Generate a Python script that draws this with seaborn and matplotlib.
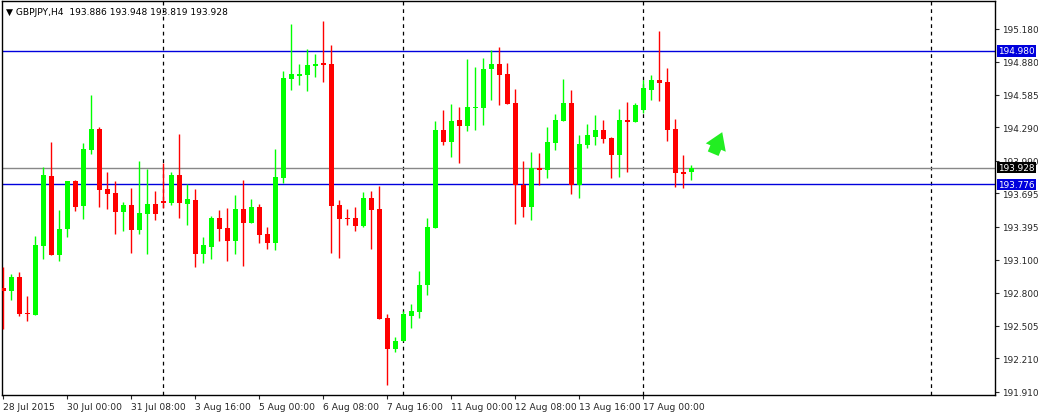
import matplotlib
matplotlib.use("Agg")
import matplotlib.pyplot as plt
import numpy as np
import seaborn as sns

# GBPJPY H4 candles
opens = [192.842, 192.821, 192.947, 192.620, 192.602, 193.223, 193.853, 193.142, 193.376, 193.808,
         193.583, 194.087, 194.276, 193.736, 193.700, 193.529, 193.592, 193.367, 193.511, 193.601,
         193.628, 193.610, 193.862, 193.601, 193.637, 193.151, 193.214, 193.475, 193.385, 193.268,
         193.556, 193.430, 193.574, 193.331, 193.250, 193.835, 194.726, 194.753, 194.762, 194.843,
         194.870, 194.861, 193.592, 193.475, 193.475, 193.403, 193.655, 193.556, 192.575, 192.296,
         192.368, 192.593, 192.629, 192.872, 193.385, 194.267, 194.159, 194.357, 194.303, 194.465,
         194.465, 194.816, 194.861, 194.771, 194.510, 193.772, 193.574, 193.925, 193.907, 194.150,
         194.348, 194.510, 193.772, 194.132, 194.204, 194.267, 194.195, 194.042, 194.357, 194.339,
         194.447, 194.627, 194.717, 194.699, 194.276, 193.889, 193.886]
closes = [192.818, 192.947, 192.611, 192.605, 193.232, 193.865, 193.142, 193.376, 193.808, 193.574,
          194.096, 194.276, 193.727, 193.691, 193.529, 193.592, 193.367, 193.520, 193.601, 193.511,
          193.610, 193.862, 193.610, 193.646, 193.151, 193.232, 193.475, 193.376, 193.268, 193.556,
          193.430, 193.574, 193.322, 193.250, 193.844, 194.735, 194.771, 194.771, 194.852, 194.861,
          194.852, 193.583, 193.466, 193.466, 193.403, 193.655, 193.547, 192.566, 192.296, 192.368,
          192.611, 192.638, 192.872, 193.394, 194.267, 194.159, 194.348, 194.303, 194.474, 194.474,
          194.816, 194.861, 194.762, 194.501, 193.772, 193.574, 193.925, 193.907, 194.159, 194.357,
          194.510, 193.772, 194.141, 194.222, 194.267, 194.186, 194.042, 194.357, 194.339, 194.492,
          194.645, 194.717, 194.690, 194.267, 193.880, 193.871, 193.928]
highs = [193.031, 192.971, 192.992, 192.776, 193.316, 193.931, 194.162, 193.550, 193.808, 193.817,
         194.150, 194.582, 194.297, 193.892, 193.811, 193.622, 193.745, 193.991, 193.916, 193.721,
         193.970, 193.886, 194.231, 193.781, 193.736, 193.307, 193.496, 193.547, 193.565, 193.685,
         193.817, 193.646, 193.601, 193.394, 194.096, 194.798, 195.218, 194.861, 194.996, 194.951,
         195.248, 195.032, 193.637, 193.556, 193.574, 193.712, 193.718, 193.766, 192.611, 192.404,
         192.638, 192.701, 192.998, 193.478, 194.351, 194.447, 194.501, 194.474, 194.906, 194.834,
         194.915, 194.987, 195.014, 194.870, 194.636, 193.988, 194.069, 194.060, 194.294, 194.411,
         194.726, 194.627, 194.222, 194.321, 194.402, 194.357, 194.204, 194.456, 194.519, 194.510,
         194.717, 194.762, 195.158, 194.825, 194.366, 194.042, 193.948]
lows = [192.476, 192.731, 192.587, 192.545, 192.596, 193.106, 193.142, 193.085, 193.301, 193.538,
        193.466, 194.051, 193.574, 193.556, 193.331, 193.358, 193.160, 193.331, 193.148, 193.457,
        193.565, 193.592, 193.475, 193.412, 193.037, 193.070, 193.106, 193.268, 193.088, 193.148,
        193.043, 193.430, 193.250, 193.196, 193.187, 193.790, 194.627, 194.672, 194.618, 194.744,
        194.699, 193.160, 193.115, 193.412, 193.358, 193.394, 193.196, 192.566, 191.972, 192.266,
        192.368, 192.485, 192.575, 192.782, 193.385, 194.132, 194.024, 193.970, 194.258, 194.267,
        194.312, 194.537, 194.492, 194.501, 193.421, 193.484, 193.457, 193.772, 193.835, 194.087,
        194.348, 193.691, 193.655, 194.105, 194.132, 194.150, 193.835, 193.844, 193.889, 194.339,
        194.420, 194.537, 194.528, 194.168, 193.754, 193.745, 193.819]

price_ticks = [195.180, 194.880, 194.585, 194.290, 193.990, 193.695, 193.395,
               193.100, 192.800, 192.505, 192.210, 191.910]
time_labels = ["28 Jul 2015", "30 Jul 00:00", "31 Jul 08:00", "3 Aug 16:00", "5 Aug 00:00",
               "6 Aug 08:00", "7 Aug 16:00", "11 Aug 00:00", "12 Aug 08:00", "13 Aug 16:00",
               "17 Aug 00:00"]
time_label_idx = [0, 8, 16, 24, 32, 40, 48, 56, 64, 72, 80]
day_separators = [20, 50, 80, 116]
resistance = 194.980
support = 193.776
last_price = 193.928

sns.set_theme(style="white")
plt.rcParams["font.family"] = ["DejaVu Sans"]

fig = plt.figure(figsize=(10.38, 4.14), dpi=100)
ax = fig.add_axes([2 / 1038, 18 / 414, 993 / 1038, 394 / 414])

o = np.array(opens)
c = np.array(closes)
idx = np.arange(len(o))
up = c >= o
colors = np.where(up, "#00ff00", "#ff0000")

ax.vlines(idx, lows, highs, colors=colors, linewidth=1, zorder=3)
body_low = np.minimum(o, c)
body_h = np.maximum(np.abs(c - o), 0.012)
ax.bar(idx, body_h, bottom=body_low, width=0.62, color=colors, linewidth=0, zorder=4)

for x in day_separators:
    ax.axvline(x, color="black", linestyle=(0, (3, 3)), linewidth=0.9, zorder=1)
ax.axhline(resistance, color="#0000dd", linewidth=1, zorder=2)
ax.axhline(support, color="#0000dd", linewidth=1, zorder=2)
ax.axhline(last_price, color="#888888", linewidth=1, zorder=2)

ax.annotate("", xy=(90.0, 194.27), xytext=(88.6, 194.03),
            arrowprops=dict(arrowstyle="simple,head_width=1.3,head_length=1.0,tail_width=0.7",
                            color="#22ee22", lw=0), zorder=5)

ax.set_xlim(-0.16, 123.96)
ax.set_ylim(191.880, 195.428)

ax.yaxis.tick_right()
ax.set_yticks(price_ticks)
ax.set_yticklabels([f"{p:.3f}" for p in price_ticks], fontsize=6.4)
ax.tick_params(axis="y", length=3, width=0.8, direction="out", pad=2, right=True)
ax.set_xticks(time_label_idx)
ax.set_xticklabels(time_labels, fontsize=6.6, ha="left")
ax.tick_params(axis="x", length=3, width=0.8, direction="out", pad=2, bottom=True)
for spine in ax.spines.values():
    spine.set_color("black")
    spine.set_linewidth(1)

# price boxes on the right scale
for val, bg in [(resistance, "#0000dd"), (support, "#0000dd"), (last_price, "black")]:
    ax.text(1.003, val, f"{val:.3f}", transform=ax.get_yaxis_transform(), fontsize=6.4,
            color="white", va="center", ha="left",
            bbox=dict(boxstyle="square,pad=0.15", fc=bg, ec="none"), zorder=6, clip_on=False)

ax.text(0.004, 0.985, "\u25bc GBPJPY,H4  193.886 193.948 193.819 193.928",
        transform=ax.transAxes, fontsize=6.6, va="top", ha="left", color="black")

fig.savefig("out.png", dpi=100)
plt.close(fig)
